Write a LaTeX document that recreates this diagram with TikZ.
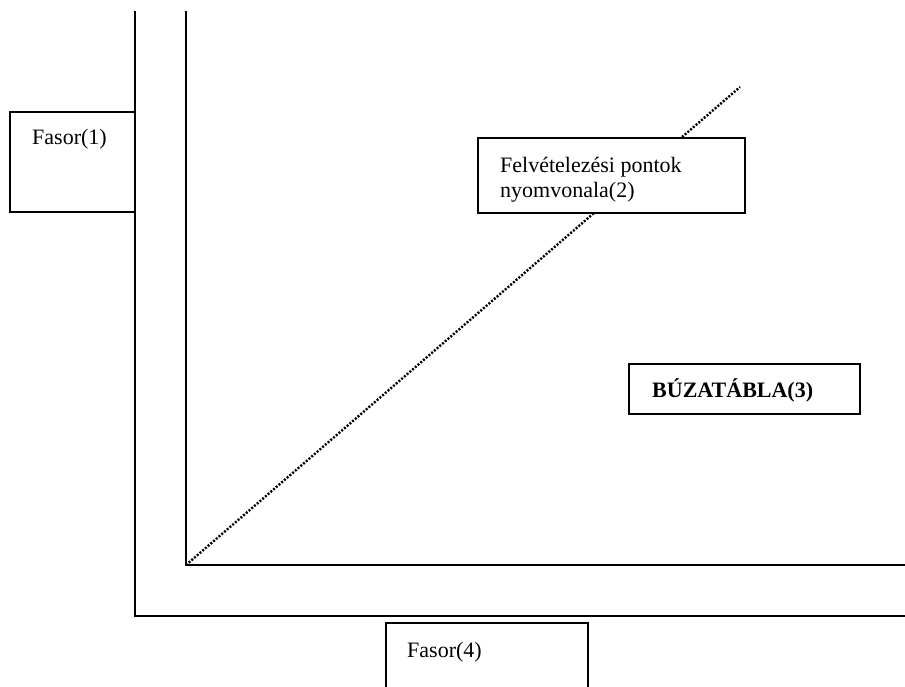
\documentclass[tikz,border=0pt]{standalone}
\usepackage{fontspec}
\setmainfont{Liberation Serif}
\begin{document}
\begin{tikzpicture}[x=1pt,y=-1pt,
  ln/.style={line width=2pt,black},
  boxln/.style={line width=1.8pt,black},
  lbl/.style={anchor=base west,inner sep=0pt,font=\fontsize{22}{25}\selectfont,align=left},
  trace/.style={line width=2.4pt,dash pattern=on 2pt off 1.6pt}]
\useasboundingbox (0,0) rectangle (905,686);
% coordinates
\coordinate (o1t) at (135,11);
\coordinate (o1b) at (135,616);
\coordinate (o1r) at (905,616);
\coordinate (i1t) at (186,11);
\coordinate (i1b) at (186,565);
\coordinate (i1r) at (905,565);
\coordinate (tr) at (740,87);
% fields / rows
\draw[ln] (o1t) -- (o1b) -- (o1r);
\draw[ln] (i1t) -- (i1b) -- (i1r);
% trace line
\draw[trace] (i1b) -- (tr);
% boxes
\draw[boxln,fill=white] (10,112) rectangle (135,212);
\node[lbl] (f1) at (32,144) {Fasor(1)};
\draw[boxln,fill=white] (478,138) rectangle (745,213);
\node[lbl] (fp) at (500,197) {Felvételezési pontok\\nyomvonala(2)};
\draw[boxln,fill=white] (629,364) rectangle (860,414);
\node[lbl,font=\fontsize{22}{25}\selectfont\bfseries] (bt) at (652,397) {BÚZATÁBLA(3)};
\draw[boxln] (386,690) -- (386,623) -- (588,623) -- (588,690);
\node[lbl] (f4) at (407,657) {Fasor(4)};
\end{tikzpicture}
\end{document}
